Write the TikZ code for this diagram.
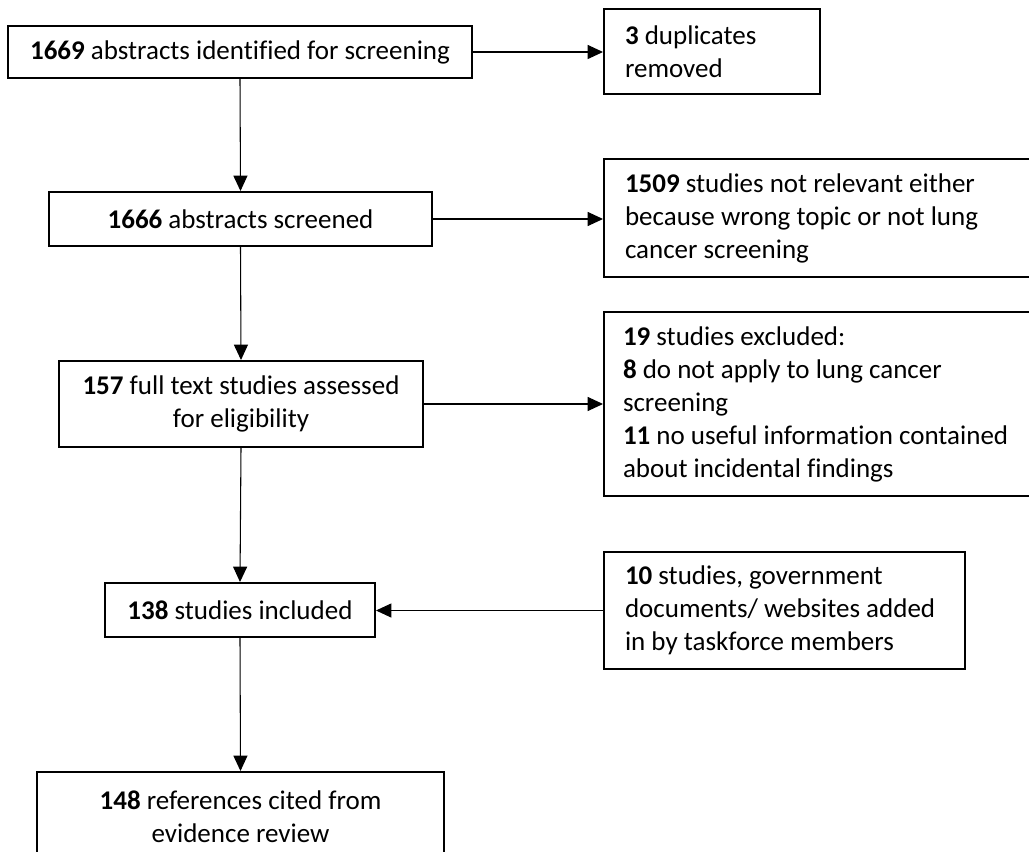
\documentclass[tikz,border=0pt]{standalone}
\usepackage{fontspec}
\setmainfont{Carlito}[Ligatures=NoCommon]
\usetikzlibrary{arrows.meta}
\begin{document}
\begin{tikzpicture}[x=0.75pt,y=-0.75pt,
  every node/.style={font=\fontsize{20.25pt}{24.75pt}\selectfont, inner sep=0pt},
  cbox/.style={draw, line width=1.5pt, align=center},
  lbox/.style={draw, line width=1.5pt, align=flush left, inner xsep=15.75pt},
  conn/.style={line width=0.8pt, -{Triangle[length=11.5pt,width=10.5pt]}}]
\useasboundingbox (0,0) rectangle (1029,852);
\clip (0,0) rectangle (1029,852);
\fill[white] (0,0) rectangle (1029,852);

\node[cbox, minimum width=348pt, minimum height=39pt] (b1) at (240,52)
  {\textbf{1669} abstracts identified for screening};
\node[lbox, text width=130.5pt, minimum height=63.75pt] (dup) at (712,51.5)
  {\textbf{3} duplicates\\removed};
\node[cbox, minimum width=287.25pt, minimum height=40.5pt] (b2) at (240.5,219)
  {\textbf{1666} abstracts screened};
\node[lbox, text width=295.5pt, minimum height=88.5pt] (r1) at (822,218)
  {\textbf{1509} studies not relevant either\\because wrong topic or not lung\\cancer screening};
\node[cbox, minimum width=273pt, minimum height=64.5pt] (b3) at (241,404)
  {\textbf{157} full text studies assessed\\for eligibility};
\node[lbox, inner xsep=14.25pt, text width=298.5pt, minimum height=138pt] (r2) at (822,404)
  {\textbf{19} studies excluded:\\\textbf{8} do not apply to lung cancer\\screening\\\textbf{11} no useful information contained\\about incidental findings};
\node[cbox, minimum width=202.5pt, minimum height=40.5pt] (b4) at (240,610)
  {\textbf{138} studies included};
\node[lbox, text width=239.25pt, minimum height=87.75pt] (r3) at (784.5,610.5)
  {\textbf{10} studies, government\\documents/ websites added\\in by taskforce members};
\node[cbox, minimum width=305.25pt, minimum height=67.5pt] (b5) at (240.5,817)
  {\textbf{148} references cited from\\evidence review};

\draw[conn] (b1.east) -- (b1.east -| dup.west);
\draw[conn] (b1.south) -- (b2.north);
\draw[conn] (b2.east) -- (b2.east -| r1.west);
\draw[conn] (b2.south) -- (b3.north);
\draw[conn] (b3.east) -- (b3.east -| r2.west);
\draw[conn] (b3.south) -- (b4.north);
\draw[conn] (r3.west) -- (r3.west -| b4.east);
\draw[conn] (b4.south) -- (b5.north);
\end{tikzpicture}
\end{document}
